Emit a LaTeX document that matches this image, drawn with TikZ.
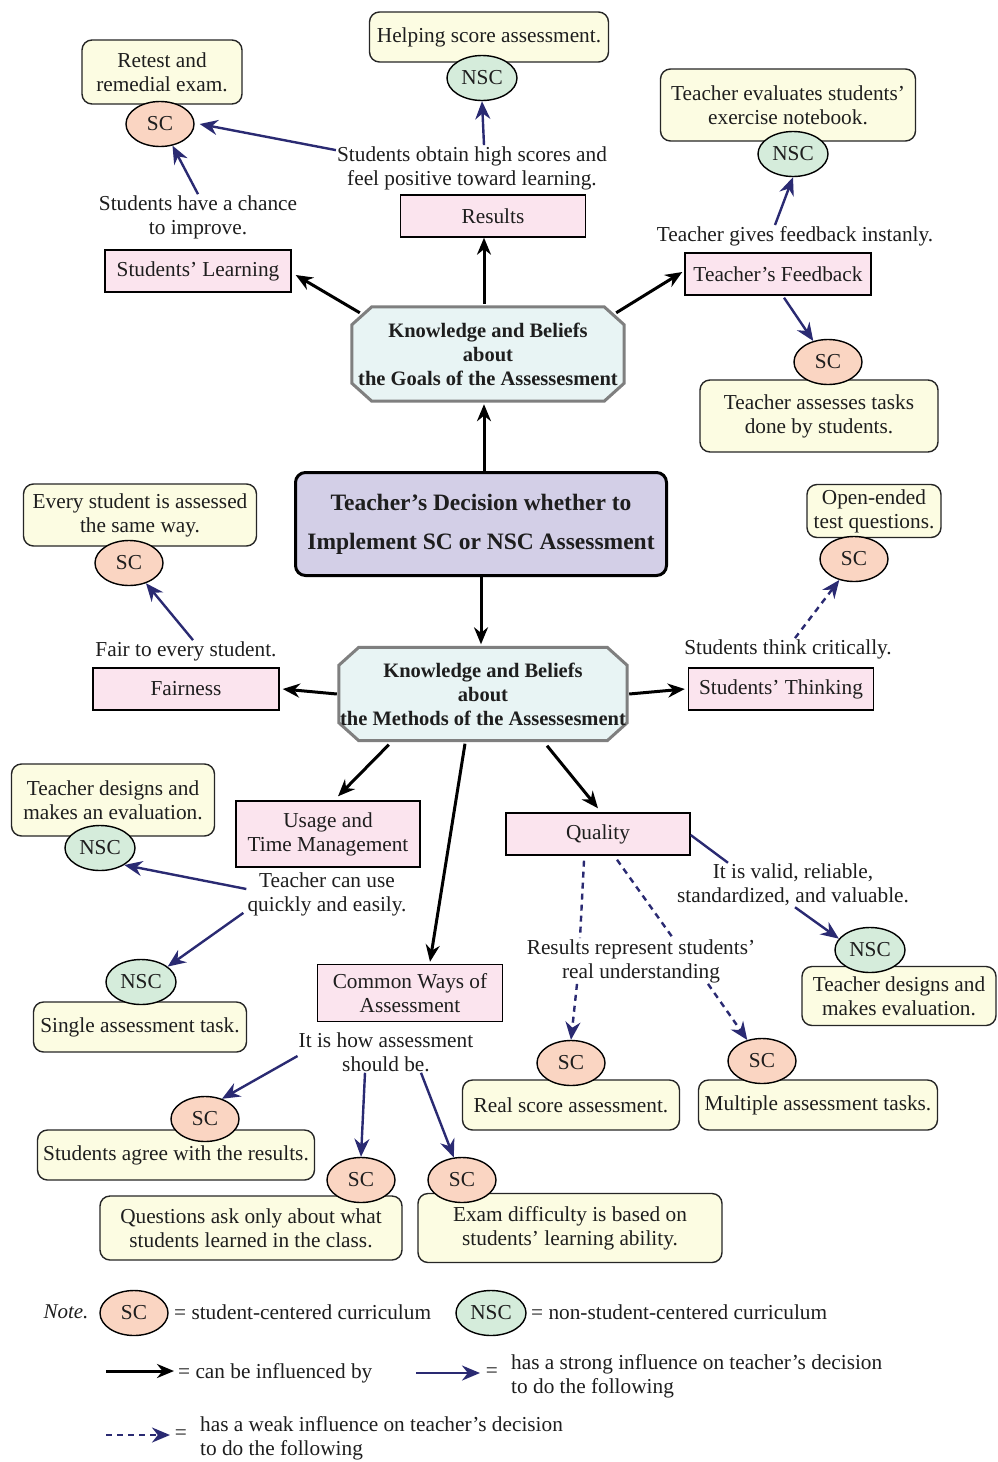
\documentclass[tikz,border=0pt]{standalone}
\usepackage{fontspec}
\setmainfont{Liberation Serif}
\usetikzlibrary{arrows.meta,shapes.geometric}
\definecolor{pinkc}{HTML}{FBE4EE}
\definecolor{yelc}{HTML}{FCFCE2}
\definecolor{scc}{HTML}{FAD5C2}
\definecolor{nscc}{HTML}{D5ECDB}
\definecolor{decc}{HTML}{D3CFE7}
\definecolor{octc}{HTML}{E8F4F4}
\definecolor{octline}{HTML}{7F7F7F}
\definecolor{navyc}{HTML}{2A2A72}
\definecolor{inkc}{HTML}{1E1E1E}
\pgfdeclarelayer{bg}
\pgfsetlayers{bg,main}
\begin{document}
\begin{tikzpicture}[x=1pt,y=-1pt,
  font=\fontsize{21.3}{24}\selectfont, text=inkc,
  pinkbox/.style={draw=black,fill=pinkc,line width=1.4pt,inner sep=0pt,minimum height=42pt,align=center},
  ybox/.style={draw=black!85,fill=yelc,line width=1.4pt,rounded corners=10pt,inner sep=0pt,align=center},
  scnode/.style={ellipse,draw=black,fill=scc,line width=1.4pt,minimum width=68pt,minimum height=45pt,inner sep=0pt},
  nscnode/.style={scnode,fill=nscc,minimum width=70pt},
  lbl/.style={align=center,inner sep=1pt},
  octbox/.style={inner sep=0pt,align=center,font=\fontsize{20.5}{24}\selectfont\bfseries},
  blk/.style={draw=black,line width=3pt,-{Stealth[length=17pt,width=14pt]}},
  nav/.style={draw=navyc,line width=2.4pt,-{Stealth[length=18pt,width=15pt]}},
  navd/.style={nav,dash pattern=on 6pt off 5pt},
]
\begin{pgfonlayer}{bg}
\useasboundingbox[fill=white] (0,0) rectangle (998,1462);
\end{pgfonlayer}

% ---- central decision and the two knowledge blocks ----
\node[draw=black,fill=decc,line width=3pt,rounded corners=10pt,minimum width=371pt,minimum height=103pt,
      align=center,inner sep=0pt,font=\fontsize{23.5}{39}\selectfont\bfseries] (decision) at (481,524)
  {Teacher’s Decision whether to\\Implement SC or NSC Assessment};
\node[octbox,minimum width=272pt,minimum height=94pt] (goals) at (488,354)
  {Knowledge and Beliefs\\about\\the Goals of the Assessesment};
\node[octbox,minimum width=288pt,minimum height=93pt] (methods) at (483,694)
  {Knowledge and Beliefs\\about\\the Methods of the Assessesment};
\begin{pgfonlayer}{bg}
\foreach \n in {goals,methods}
  \draw[fill=octc,draw=octline,line width=3pt]
    ([xshift=20pt]\n.north west) -- ([xshift=-20pt]\n.north east) -- ([yshift=-18pt]\n.north east)
    -- ([yshift=18pt]\n.south east) -- ([xshift=-20pt]\n.south east) -- ([xshift=20pt]\n.south west)
    -- ([yshift=18pt]\n.south west) -- ([yshift=-18pt]\n.north west) -- cycle;
\end{pgfonlayer}

% ---- category boxes ----
\node[pinkbox,minimum width=185pt] (results) at (493,216) {Results};
\node[pinkbox,minimum width=186pt] (learning) at (198,271) {Students’ Learning};
\node[pinkbox,minimum width=186pt] (feedback) at (778,274) {Teacher’s Feedback};
\node[pinkbox,minimum width=186pt] (fairness) at (186,689) {Fairness};
\node[pinkbox,minimum width=185pt] (thinking) at (781,689) {Students’ Thinking};
\node[pinkbox,minimum width=184pt,minimum height=66pt] (usage) at (328,834) {Usage and\\Time Management};
\node[pinkbox,minimum width=185pt,minimum height=57pt] (common) at (410,993) {Common Ways of\\Assessment};
\node[pinkbox,minimum width=184pt] (quality) at (598,834) {Quality};

% ---- practice boxes ----
\node[ybox,minimum width=239pt,minimum height=50pt] (yHelp) at (489,37) {Helping score assessment.};
\node[ybox,minimum width=160pt,minimum height=64pt] (yRetest) at (162,72) {Retest and\\remedial exam.};
\node[ybox,minimum width=255pt,minimum height=72pt] (yEval) at (788,105) {Teacher evaluates students’\\exercise notebook.};
\node[ybox,minimum width=238pt,minimum height=72pt] (yAssess) at (819,416) {Teacher assesses tasks\\done by students.};
\node[ybox,minimum width=233pt,minimum height=62pt] (yEvery) at (140,515) {Every student is assessed\\the same way.};
\node[ybox,minimum width=134pt,minimum height=53pt] (yOpen) at (874,511) {Open-ended\\test questions.};
\node[ybox,minimum width=203pt,minimum height=72pt] (yDesign) at (113,800) {Teacher designs and\\makes an evaluation.};
\node[ybox,minimum width=213pt,minimum height=50pt] (ySingle) at (140,1027) {Single assessment task.};
\node[ybox,minimum width=277pt,minimum height=50pt] (yAgree) at (176,1155) {Students agree with the results.};
\node[ybox,minimum width=302pt,minimum height=64pt] (yQuest) at (251,1228) {Questions ask only about what\\students learned in the class.};
\node[ybox,minimum width=304pt,minimum height=69pt] (yExam) at (570,1228) {Exam difficulty is based on\\students’ learning ability.};
\node[ybox,minimum width=217pt,minimum height=50pt] (yReal) at (571,1105) {Real score assessment.};
\node[ybox,minimum width=239pt,minimum height=50pt] (yMulti) at (818,1105) {Multiple assessment tasks.};
\node[ybox,minimum width=194pt,minimum height=59pt] (yDesignB) at (899,996) {Teacher designs and\\makes evaluation.};

% ---- SC / NSC tags ----
\node[nscnode] (nsc1) at (482,78) {NSC};
\node[scnode]  (sc1)  at (160,124) {SC};
\node[nscnode] (nsc2) at (793,154) {NSC};
\node[scnode]  (sc2)  at (828,362) {SC};
\node[scnode]  (sc3)  at (129,563) {SC};
\node[scnode]  (sc4)  at (854,559) {SC};
\node[nscnode] (nsc3) at (100,848) {NSC};
\node[nscnode] (nsc4) at (141,982) {NSC};
\node[nscnode] (nsc5) at (870,950) {NSC};
\node[scnode]  (sc5)  at (205,1119) {SC};
\node[scnode]  (sc6)  at (361,1180) {SC};
\node[scnode]  (sc7)  at (462,1180) {SC};
\node[scnode]  (sc8)  at (571,1063) {SC};
\node[scnode]  (sc9)  at (762,1061) {SC};

% ---- reasons ----
\node[lbl] (lHigh) at (472,168) {Students obtain high scores and\\feel positive toward learning.};
\node[lbl] (lChance) at (198,217) {Students have a chance\\to improve.};
\node[lbl] (lInstant) at (795,236) {Teacher gives feedback instanly.};
\node[lbl] (lFair) at (186,651) {Fair to every student.};
\node[lbl] (lCrit) at (788,649) {Students think critically.};
\node[lbl] (lQuick) at (327,894) {Teacher can use\\quickly and easily.};
\node[lbl] (lHow) at (386,1052) {It is how assessment\\should be.};
\node[lbl] (lValid) at (793,885) {It is valid, reliable,\\standardized, and valuable.};
\node[lbl] (lReal) at (641,961) {Results represent students’\\real understanding};

% ---- "can be influenced by" links ----
\draw[blk] ([xshift=3pt]decision.north) -- ([xshift=-4pt,yshift=-3pt]goals.south);
\draw[blk] ([xshift=-4pt,yshift=3pt]goals.north) -- ([xshift=-9pt]results.south);
\draw[blk] ([xshift=8pt,yshift=-6pt]goals.north west) -- ([xshift=4pt,yshift=-4pt]learning.east);
\draw[blk] ([xshift=-8pt,yshift=-6pt]goals.north east) -- ([xshift=-2pt,yshift=2pt]feedback.west);
\draw[blk] (decision.south) -- ([xshift=-2pt,yshift=3pt]methods.north);
\draw[blk] ([xshift=-2pt]methods.west) -- ([xshift=3pt]fairness.east);
\draw[blk] ([xshift=2pt]methods.east) -- ([xshift=-3pt]thinking.west);
\draw[blk] ([xshift=50pt,yshift=-4pt]methods.south west) -- ([xshift=10pt,yshift=4pt]usage.north);
\draw[blk] ([xshift=-18pt,yshift=-3pt]methods.south) -- ([xshift=20pt,yshift=2pt]common.north);
\draw[blk] ([xshift=64pt,yshift=-5pt]methods.south) -- ([yshift=4pt]quality.north);

% ---- strong influence ----
\draw[nav] ([xshift=12pt]lHigh.north) -- (nsc1.south);
\draw[nav] ([yshift=-5pt]lHigh.north west) -- ([xshift=5pt]sc1.east);
\draw[nav] (lChance.north) -- (sc1.300);
\draw[nav] ([xshift=-20pt]lInstant.north) -- (nsc2.south);
\draw[nav] ([xshift=6pt,yshift=-2pt]feedback.south) -- (sc2.125);
\draw[nav] ([xshift=7pt]lFair.north) -- (sc3.-50);
\draw[nav] ([yshift=5pt]lQuick.west) -- (nsc3.-35);
\draw[nav] ([xshift=-3pt,yshift=4pt]lQuick.south west) -- (nsc4.30);
\draw[nav] ([yshift=-4pt]lHow.west) -- (sc5.50);
\draw[nav] ([xshift=-21pt]lHow.south) -- (sc6.north);
\draw[nav] ([xshift=35pt]lHow.south) -- (sc7.110);
\draw[navyc,line width=2.4pt] ([yshift=-1pt]quality.east) -- ([xshift=-65pt]lValid.north);
\draw[nav] ([xshift=2pt]lValid.south) -- (nsc5.160);

% ---- weak influence ----
\draw[navd] ([xshift=7pt]lCrit.north) -- (sc4.235);
\draw[navyc,line width=2.4pt,dash pattern=on 6pt off 5pt] ([xshift=-14pt,yshift=-5pt]quality.south) -- ([xshift=-61pt]lReal.north);
\draw[navyc,line width=2.4pt,dash pattern=on 6pt off 5pt] ([xshift=19pt,yshift=-4pt]quality.south) -- ([xshift=32pt]lReal.north);
\draw[navd] ([xshift=-64pt]lReal.south) -- (sc8.north);
\draw[navd] ([xshift=67pt]lReal.south) -- (sc9.125);

% ---- legend ----
\node[font=\fontsize{21}{24}\selectfont\itshape] (note) at (66,1312) {Note.};
\node[scnode] (lgSC) at (134,1313) {SC};
\node[anchor=west,inner sep=0pt] (lgSCt) at (174,1312) {= student-centered curriculum};
\node[nscnode] (lgNSC) at (491,1313) {NSC};
\node[anchor=west,inner sep=0pt] (lgNSCt) at (531,1312) {= non-student-centered curriculum};
\coordinate (kA1) at (106,1371);
\coordinate (kA2) at (174,1371);
\draw[blk] (kA1) -- (kA2);
\node[anchor=west,inner sep=0pt] (lgBlk) at (178,1373) {= can be influenced by};
\coordinate (kB1) at (416,1373);
\coordinate (kB2) at (480,1373);
\draw[nav] (kB1) -- (kB2);
\node[inner sep=0pt] (lgNavEq) at (492,1373) {=};
\node[anchor=west,align=left,inner sep=0pt] (lgNav) at (511,1376) {has a strong influence on teacher’s decision\\to do the following};
\coordinate (kC1) at (106,1435);
\coordinate (kC2) at (170,1435);
\draw[navd] (kC1) -- (kC2);
\node[inner sep=0pt] (lgDashEq) at (181,1435) {=};
\node[anchor=west,align=left,inner sep=0pt] (lgDash) at (200,1438) {has a weak influence on teacher’s decision\\to do the following};
\end{tikzpicture}
\end{document}
